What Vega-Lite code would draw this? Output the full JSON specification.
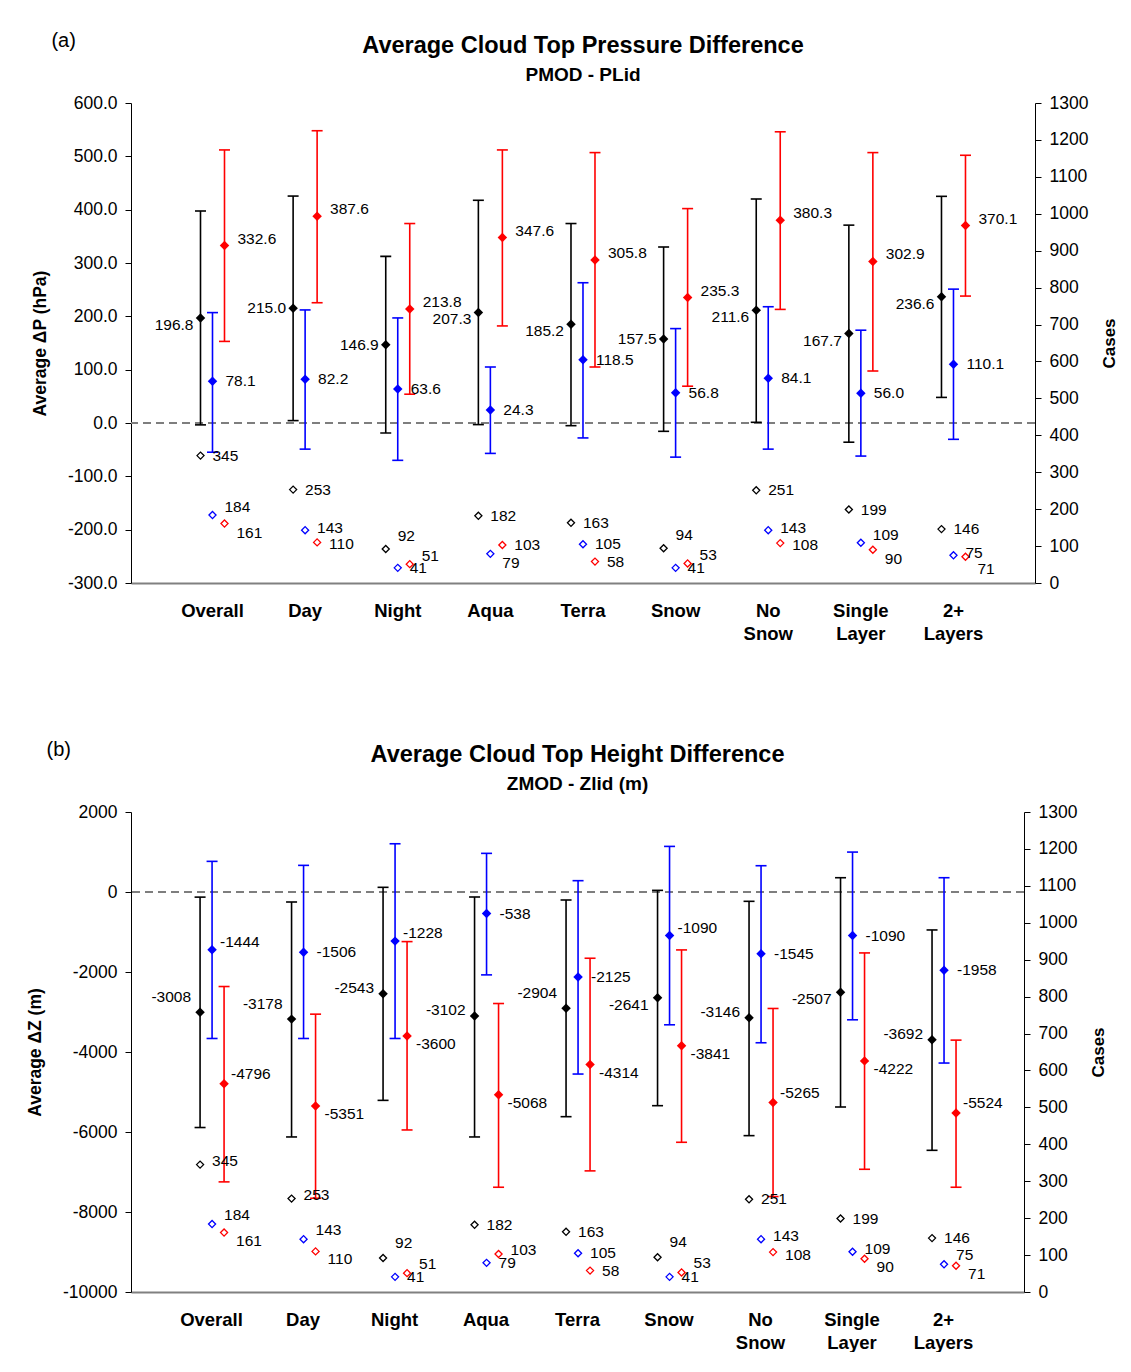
{
"$schema":"https://vega.github.io/schema/vega-lite/v6.json",
"padding":{"left":26,"top":30,"right":8,"bottom":0},
"spacing":96,
"config":{"font":"Liberation Sans","view":{"stroke":null},"axis":{"labelFont":"Liberation Sans","titleFont":"Liberation Sans","grid":false,"labelOverlap":false},"axisRight":{"labelOverlap":false},"title":{"font":"Liberation Sans","subtitleFont":"Liberation Sans"},"text":{"font":"Liberation Sans"},"locale":{"number":{"decimal":".","thousands":",","grouping":[3],"currency":["$",""],"minus":"-"}}},
"datasets":{
"pa":[
{"cat":"Overall","s":"k","mean":196.8,"lo":-3.5,"hi":397.5,"n":345},
{"cat":"Overall","s":"b","mean":78.1,"lo":-54.8,"hi":207,"n":184},
{"cat":"Overall","s":"r","mean":332.6,"lo":153,"hi":512,"n":161},
{"cat":"Day","s":"k","mean":215.0,"lo":4.5,"hi":425.5,"n":253},
{"cat":"Day","s":"b","mean":82.2,"lo":-49,"hi":212,"n":143},
{"cat":"Day","s":"r","mean":387.6,"lo":225.5,"hi":548,"n":110},
{"cat":"Night","s":"k","mean":146.9,"lo":-18.7,"hi":312.5,"n":92},
{"cat":"Night","s":"b","mean":63.6,"lo":-70,"hi":197,"n":41},
{"cat":"Night","s":"r","mean":213.8,"lo":54,"hi":374,"n":51},
{"cat":"Aqua","s":"k","mean":207.3,"lo":-3,"hi":417.6,"n":182},
{"cat":"Aqua","s":"b","mean":24.3,"lo":-57,"hi":105,"n":79},
{"cat":"Aqua","s":"r","mean":347.6,"lo":182,"hi":512,"n":103},
{"cat":"Terra","s":"k","mean":185.2,"lo":-5,"hi":374,"n":163},
{"cat":"Terra","s":"b","mean":118.5,"lo":-28,"hi":263,"n":105},
{"cat":"Terra","s":"r","mean":305.8,"lo":105,"hi":507,"n":58},
{"cat":"Snow","s":"k","mean":157.5,"lo":-15.6,"hi":330,"n":94},
{"cat":"Snow","s":"b","mean":56.8,"lo":-64,"hi":177,"n":41},
{"cat":"Snow","s":"r","mean":235.3,"lo":69,"hi":402,"n":53},
{"cat":"No Snow","s":"k","mean":211.6,"lo":1.3,"hi":420,"n":251},
{"cat":"No Snow","s":"b","mean":84.1,"lo":-49,"hi":218,"n":143},
{"cat":"No Snow","s":"r","mean":380.3,"lo":213,"hi":546,"n":108},
{"cat":"Single Layer","s":"k","mean":167.7,"lo":-36,"hi":371,"n":199},
{"cat":"Single Layer","s":"b","mean":56.0,"lo":-62,"hi":174,"n":109},
{"cat":"Single Layer","s":"r","mean":302.9,"lo":97.5,"hi":507,"n":90},
{"cat":"2+ Layers","s":"k","mean":236.6,"lo":48,"hi":425,"n":146},
{"cat":"2+ Layers","s":"b","mean":110.1,"lo":-30.6,"hi":251,"n":75},
{"cat":"2+ Layers","s":"r","mean":370.1,"lo":238,"hi":502,"n":71}
],
"pb":[
{"cat":"Overall","s":"k","mean":-3008,"lo":-5888,"hi":-128,"n":345},
{"cat":"Overall","s":"b","mean":-1444,"lo":-3662,"hi":766,"n":184},
{"cat":"Overall","s":"r","mean":-4796,"lo":-7247,"hi":-2363,"n":161},
{"cat":"Day","s":"k","mean":-3178,"lo":-6124,"hi":-250,"n":253},
{"cat":"Day","s":"b","mean":-1506,"lo":-3662,"hi":666,"n":143},
{"cat":"Day","s":"r","mean":-5351,"lo":-7656,"hi":-3054,"n":110},
{"cat":"Night","s":"k","mean":-2543,"lo":-5209,"hi":117,"n":92},
{"cat":"Night","s":"b","mean":-1228,"lo":-3662,"hi":1206,"n":41},
{"cat":"Night","s":"r","mean":-3600,"lo":-5949,"hi":-1240,"n":51},
{"cat":"Aqua","s":"k","mean":-3102,"lo":-6124,"hi":-125,"n":182},
{"cat":"Aqua","s":"b","mean":-538,"lo":-2072,"hi":966,"n":79},
{"cat":"Aqua","s":"r","mean":-5068,"lo":-7381,"hi":-2788,"n":103},
{"cat":"Terra","s":"k","mean":-2904,"lo":-5617,"hi":-200,"n":163},
{"cat":"Terra","s":"b","mean":-2125,"lo":-4551,"hi":283,"n":105},
{"cat":"Terra","s":"r","mean":-4314,"lo":-6972,"hi":-1656,"n":58},
{"cat":"Snow","s":"k","mean":-2641,"lo":-5342,"hi":41,"n":94},
{"cat":"Snow","s":"b","mean":-1090,"lo":-3320,"hi":1140,"n":41},
{"cat":"Snow","s":"r","mean":-3841,"lo":-6257,"hi":-1448,"n":53},
{"cat":"No Snow","s":"k","mean":-3146,"lo":-6091,"hi":-233,"n":251},
{"cat":"No Snow","s":"b","mean":-1545,"lo":-3769,"hi":657,"n":143},
{"cat":"No Snow","s":"r","mean":-5265,"lo":-7614,"hi":-2912,"n":108},
{"cat":"Single Layer","s":"k","mean":-2507,"lo":-5375,"hi":357,"n":199},
{"cat":"Single Layer","s":"b","mean":-1090,"lo":-3195,"hi":998,"n":109},
{"cat":"Single Layer","s":"r","mean":-4222,"lo":-6932,"hi":-1523,"n":90},
{"cat":"2+ Layers","s":"k","mean":-3692,"lo":-6458,"hi":-949,"n":146},
{"cat":"2+ Layers","s":"b","mean":-1958,"lo":-4276,"hi":357,"n":75},
{"cat":"2+ Layers","s":"r","mean":-5524,"lo":-7381,"hi":-3703,"n":71}
]
},
"vconcat":[
{"title":{"text":"(a)","anchor":"start","fontSize":20,"fontWeight":"normal","color":"#000","offset":-17,"dx":20},
 "vconcat":[
 {"width":904,"height":480,"data":{"name":"pa"},
  "title":{"text":"Average Cloud Top Pressure Difference","subtitle":"PMOD - PLid","fontSize":23.5,"fontWeight":"bold","color":"#000","subtitleFontSize":19,"subtitleFontWeight":"bold","subtitleColor":"#000","subtitlePadding":9,"offset":9,"anchor":"middle"},
  "layer":[
   {"layer":[
     {"mark":{"type":"rule","strokeDash":[8,5],"color":"#7f7f7f","strokeWidth":1.3},
      "encoding":{"y":{"datum":0,"type":"quantitative","scale":{"domain":[-300,600],"nice":false,"zero":false},"axis":{"title":"Average  ΔP (hPa)","values":[-300,-200,-100,0,100,200,300,400,500,600],"format":".1f","labelFontSize":17.5,"labelColor":"#000","titleFontSize":17.5,"titleFontWeight":"bold","titleColor":"#000","tickSize":6,"tickColor":"#000","domainColor":"#000","labelPadding":8,"titlePadding":18,"labelOverlap":false,"grid":false}}}},
     {"mark":{"type":"rule","strokeWidth":1.6},
      "encoding":{"x":{"field":"cat","type":"nominal","sort":["Overall","Day","Night","Aqua","Terra","Snow","No Snow","Single Layer","2+ Layers"],"scale":{"type":"band","paddingInner":0,"paddingOuter":0.38},"axis":{"title":null,"labelExpr":"split(datum.label, ' ')","labelFontWeight":"bold","labelFontSize":18.5,"labelColor":"#000","labelAngle":0,"labelBaseline":"middle","labelLineHeight":23,"labelPadding":27,"labelOverlap":false,"ticks":false,"domainColor":"#808080","domainWidth":2}},
       "xOffset":{"field":"s","type":"nominal","sort":["k","b","r"],"scale":{"type":"point","padding":0,"range":[34.3,58.3]}},
       "y":{"field":"lo","type":"quantitative","scale":{"domain":[-300,600],"nice":false,"zero":false}},"y2":{"field":"hi"},
       "color":{"field":"s","type":"nominal","scale":{"domain":["k","b","r"],"range":["#000000","#0000ff","#ff0000"]},"legend":null}}},
     {"mark":{"type":"tick","thickness":1.6,"size":11,"opacity":1},
      "encoding":{"x":{"field":"cat","type":"nominal","sort":["Overall","Day","Night","Aqua","Terra","Snow","No Snow","Single Layer","2+ Layers"]},
       "xOffset":{"field":"s","type":"nominal","sort":["k","b","r"]},
       "y":{"field":"lo","type":"quantitative"},
       "color":{"field":"s","type":"nominal","legend":null}}},
     {"mark":{"type":"tick","thickness":1.6,"size":11,"opacity":1},
      "encoding":{"x":{"field":"cat","type":"nominal","sort":["Overall","Day","Night","Aqua","Terra","Snow","No Snow","Single Layer","2+ Layers"]},
       "xOffset":{"field":"s","type":"nominal","sort":["k","b","r"]},
       "y":{"field":"hi","type":"quantitative"},
       "color":{"field":"s","type":"nominal","legend":null}}},
     {"mark":{"type":"point","shape":"diamond","filled":true,"size":90,"opacity":1},
      "encoding":{"x":{"field":"cat","type":"nominal","sort":["Overall","Day","Night","Aqua","Terra","Snow","No Snow","Single Layer","2+ Layers"]},
       "xOffset":{"field":"s","type":"nominal","sort":["k","b","r"]},
       "y":{"field":"mean","type":"quantitative"},
       "color":{"field":"s","type":"nominal","legend":null}}},
     {"transform":[{"filter":"datum.s=='k' && indexof(['Day','Night','Snow'],datum.cat)>=0"}],
      "mark":{"type":"text","align":"right","dx":-7,"dy":0,"fontSize":15.5,"color":"#000"},
      "encoding":{"x":{"field":"cat","type":"nominal","sort":["Overall","Day","Night","Aqua","Terra","Snow","No Snow","Single Layer","2+ Layers"]},
       "xOffset":{"field":"s","type":"nominal","sort":["k","b","r"]},
       "y":{"field":"mean","type":"quantitative"},"text":{"field":"mean","type":"quantitative","format":".1f"}}},
     {"transform":[{"filter":"datum.s=='k' && indexof(['Day','Night','Snow'],datum.cat)<0"}],
      "mark":{"type":"text","align":"right","dx":-7,"dy":7,"fontSize":15.5,"color":"#000"},
      "encoding":{"x":{"field":"cat","type":"nominal","sort":["Overall","Day","Night","Aqua","Terra","Snow","No Snow","Single Layer","2+ Layers"]},
       "xOffset":{"field":"s","type":"nominal","sort":["k","b","r"]},
       "y":{"field":"mean","type":"quantitative"},"text":{"field":"mean","type":"quantitative","format":".1f"}}},
     {"transform":[{"filter":"datum.s=='b'"}],
      "mark":{"type":"text","align":"left","dx":13,"dy":0,"fontSize":15.5,"color":"#000"},
      "encoding":{"x":{"field":"cat","type":"nominal","sort":["Overall","Day","Night","Aqua","Terra","Snow","No Snow","Single Layer","2+ Layers"]},
       "xOffset":{"field":"s","type":"nominal","sort":["k","b","r"]},
       "y":{"field":"mean","type":"quantitative"},"text":{"field":"mean","type":"quantitative","format":".1f"}}},
     {"transform":[{"filter":"datum.s=='r'"}],
      "mark":{"type":"text","align":"left","dx":13,"dy":-7,"fontSize":15.5,"color":"#000"},
      "encoding":{"x":{"field":"cat","type":"nominal","sort":["Overall","Day","Night","Aqua","Terra","Snow","No Snow","Single Layer","2+ Layers"]},
       "xOffset":{"field":"s","type":"nominal","sort":["k","b","r"]},
       "y":{"field":"mean","type":"quantitative"},"text":{"field":"mean","type":"quantitative","format":".1f"}}}
   ]},
   {"layer":[
     {"mark":{"type":"point","shape":"diamond","filled":false,"size":50,"strokeWidth":1.3,"opacity":1},
      "encoding":{"x":{"field":"cat","type":"nominal","sort":["Overall","Day","Night","Aqua","Terra","Snow","No Snow","Single Layer","2+ Layers"]},
       "xOffset":{"field":"s","type":"nominal","sort":["k","b","r"]},
       "y":{"field":"n","type":"quantitative","scale":{"domain":[0,1300],"nice":false,"zero":false},"axis":{"title":"Cases","orient":"right","values":[0,100,200,300,400,500,600,700,800,900,1000,1100,1200,1300],"format":"d","labelFontSize":17.5,"labelColor":"#000","titleFontSize":17,"titleFontWeight":"bold","titleColor":"#000","titleAngle":270,"tickSize":6,"tickColor":"#000","domainColor":"#000","labelPadding":8,"titlePadding":31,"labelOverlap":false,"labelBound":false,"grid":false}},
       "color":{"field":"s","type":"nominal","legend":null}}},
     {"transform":[{"filter":"indexof(['Night|k','Snow|k'], datum.cat+'|'+datum.s)>=0"}],
      "mark":{"type":"text","align":"left","dx":12,"dy":-13,"fontSize":15.5,"color":"#000"},
      "encoding":{"x":{"field":"cat","type":"nominal","sort":["Overall","Day","Night","Aqua","Terra","Snow","No Snow","Single Layer","2+ Layers"]},
       "xOffset":{"field":"s","type":"nominal","sort":["k","b","r"]},
       "y":{"field":"n","type":"quantitative","axis":{"title":"Cases","orient":"right","values":[0,100,200,300,400,500,600,700,800,900,1000,1100,1200,1300],"labelOverlap":false}},"text":{"field":"n","type":"quantitative","format":"d"}}},
     {"transform":[{"filter":"indexof(['Overall|b','Night|r','Snow|r','Single Layer|b'], datum.cat+'|'+datum.s)>=0"}],
      "mark":{"type":"text","align":"left","dx":12,"dy":-8,"fontSize":15.5,"color":"#000"},
      "encoding":{"x":{"field":"cat","type":"nominal","sort":["Overall","Day","Night","Aqua","Terra","Snow","No Snow","Single Layer","2+ Layers"]},
       "xOffset":{"field":"s","type":"nominal","sort":["k","b","r"]},
       "y":{"field":"n","type":"quantitative","axis":{"title":"Cases","orient":"right","values":[0,100,200,300,400,500,600,700,800,900,1000,1100,1200,1300],"labelOverlap":false}},"text":{"field":"n","type":"quantitative","format":"d"}}},
     {"transform":[{"filter":"indexof(['Overall|r','Aqua|b','Single Layer|r'], datum.cat+'|'+datum.s)>=0"}],
      "mark":{"type":"text","align":"left","dx":12,"dy":9,"fontSize":15.5,"color":"#000"},
      "encoding":{"x":{"field":"cat","type":"nominal","sort":["Overall","Day","Night","Aqua","Terra","Snow","No Snow","Single Layer","2+ Layers"]},
       "xOffset":{"field":"s","type":"nominal","sort":["k","b","r"]},
       "y":{"field":"n","type":"quantitative","axis":{"title":"Cases","orient":"right","values":[0,100,200,300,400,500,600,700,800,900,1000,1100,1200,1300],"labelOverlap":false}},"text":{"field":"n","type":"quantitative","format":"d"}}},
     {"transform":[{"filter":"indexof(['2+ Layers|r'], datum.cat+'|'+datum.s)>=0"}],
      "mark":{"type":"text","align":"left","dx":12,"dy":12,"fontSize":15.5,"color":"#000"},
      "encoding":{"x":{"field":"cat","type":"nominal","sort":["Overall","Day","Night","Aqua","Terra","Snow","No Snow","Single Layer","2+ Layers"]},
       "xOffset":{"field":"s","type":"nominal","sort":["k","b","r"]},
       "y":{"field":"n","type":"quantitative","axis":{"title":"Cases","orient":"right","values":[0,100,200,300,400,500,600,700,800,900,1000,1100,1200,1300],"labelOverlap":false}},"text":{"field":"n","type":"quantitative","format":"d"}}},
     {"transform":[{"filter":"indexof(['Day|b','No Snow|b','2+ Layers|b'], datum.cat+'|'+datum.s)>=0"}],
      "mark":{"type":"text","align":"left","dx":12,"dy":-2,"fontSize":15.5,"color":"#000"},
      "encoding":{"x":{"field":"cat","type":"nominal","sort":["Overall","Day","Night","Aqua","Terra","Snow","No Snow","Single Layer","2+ Layers"]},
       "xOffset":{"field":"s","type":"nominal","sort":["k","b","r"]},
       "y":{"field":"n","type":"quantitative","axis":{"title":"Cases","orient":"right","values":[0,100,200,300,400,500,600,700,800,900,1000,1100,1200,1300],"labelOverlap":false}},"text":{"field":"n","type":"quantitative","format":"d"}}},
     {"transform":[{"filter":"indexof(['Day|r','No Snow|r'], datum.cat+'|'+datum.s)>=0"}],
      "mark":{"type":"text","align":"left","dx":12,"dy":2,"fontSize":15.5,"color":"#000"},
      "encoding":{"x":{"field":"cat","type":"nominal","sort":["Overall","Day","Night","Aqua","Terra","Snow","No Snow","Single Layer","2+ Layers"]},
       "xOffset":{"field":"s","type":"nominal","sort":["k","b","r"]},
       "y":{"field":"n","type":"quantitative","axis":{"title":"Cases","orient":"right","values":[0,100,200,300,400,500,600,700,800,900,1000,1100,1200,1300],"labelOverlap":false}},"text":{"field":"n","type":"quantitative","format":"d"}}},
     {"transform":[{"filter":"indexof(['Night|k','Snow|k','Overall|b','Night|r','Snow|r','Single Layer|b','Overall|r','Aqua|b','Single Layer|r','2+ Layers|r','Day|b','No Snow|b','2+ Layers|b','Day|r','No Snow|r'], datum.cat+'|'+datum.s)<0"}],
      "mark":{"type":"text","align":"left","dx":12,"dy":0,"fontSize":15.5,"color":"#000"},
      "encoding":{"x":{"field":"cat","type":"nominal","sort":["Overall","Day","Night","Aqua","Terra","Snow","No Snow","Single Layer","2+ Layers"]},
       "xOffset":{"field":"s","type":"nominal","sort":["k","b","r"]},
       "y":{"field":"n","type":"quantitative","axis":{"title":"Cases","orient":"right","values":[0,100,200,300,400,500,600,700,800,900,1000,1100,1200,1300],"labelOverlap":false}},"text":{"field":"n","type":"quantitative","format":"d"}}}
   ]}
  ],
  "resolve":{"scale":{"y":"independent"}}
 }
 ]
},
{"title":{"text":"(b)","anchor":"start","fontSize":20,"fontWeight":"normal","color":"#000","offset":-17,"dx":20},
 "vconcat":[
 {"width":893,"height":480,"data":{"name":"pb"},
  "title":{"text":"Average Cloud Top Height Difference","subtitle":"ZMOD - Zlid (m)","fontSize":23.5,"fontWeight":"bold","color":"#000","subtitleFontSize":19,"subtitleFontWeight":"bold","subtitleColor":"#000","subtitlePadding":9,"offset":9,"anchor":"middle"},
  "layer":[
   {"layer":[
     {"mark":{"type":"rule","strokeDash":[8,5],"color":"#7f7f7f","strokeWidth":1.3},
      "encoding":{"y":{"datum":0,"type":"quantitative","scale":{"domain":[-10000,2000],"nice":false,"zero":false},"axis":{"title":"Average  ΔZ (m)","values":[-10000,-8000,-6000,-4000,-2000,0,2000],"format":"d","labelFontSize":17.5,"labelColor":"#000","titleFontSize":17.5,"titleFontWeight":"bold","titleColor":"#000","tickSize":6,"tickColor":"#000","domainColor":"#000","labelPadding":8,"titlePadding":18,"labelOverlap":false,"grid":false}}}},
     {"mark":{"type":"rule","strokeWidth":1.6},
      "encoding":{"x":{"field":"cat","type":"nominal","sort":["Overall","Day","Night","Aqua","Terra","Snow","No Snow","Single Layer","2+ Layers"],"scale":{"type":"band","paddingInner":0,"paddingOuter":0.38},"axis":{"title":null,"labelExpr":"split(datum.label, ' ')","labelFontWeight":"bold","labelFontSize":18.5,"labelColor":"#000","labelAngle":0,"labelBaseline":"middle","labelLineHeight":23,"labelPadding":27,"labelOverlap":false,"ticks":false,"domainColor":"#808080","domainWidth":2}},
       "xOffset":{"field":"s","type":"nominal","sort":["k","b","r"],"scale":{"type":"point","padding":0,"range":[34.25,57.25]}},
       "y":{"field":"lo","type":"quantitative","scale":{"domain":[-10000,2000],"nice":false,"zero":false}},"y2":{"field":"hi"},
       "color":{"field":"s","type":"nominal","scale":{"domain":["k","b","r"],"range":["#000000","#0000ff","#ff0000"]},"legend":null}}},
     {"mark":{"type":"tick","thickness":1.6,"size":11,"opacity":1},
      "encoding":{"x":{"field":"cat","type":"nominal","sort":["Overall","Day","Night","Aqua","Terra","Snow","No Snow","Single Layer","2+ Layers"]},
       "xOffset":{"field":"s","type":"nominal","sort":["k","b","r"]},
       "y":{"field":"lo","type":"quantitative"},
       "color":{"field":"s","type":"nominal","legend":null}}},
     {"mark":{"type":"tick","thickness":1.6,"size":11,"opacity":1},
      "encoding":{"x":{"field":"cat","type":"nominal","sort":["Overall","Day","Night","Aqua","Terra","Snow","No Snow","Single Layer","2+ Layers"]},
       "xOffset":{"field":"s","type":"nominal","sort":["k","b","r"]},
       "y":{"field":"hi","type":"quantitative"},
       "color":{"field":"s","type":"nominal","legend":null}}},
     {"mark":{"type":"point","shape":"diamond","filled":true,"size":90,"opacity":1},
      "encoding":{"x":{"field":"cat","type":"nominal","sort":["Overall","Day","Night","Aqua","Terra","Snow","No Snow","Single Layer","2+ Layers"]},
       "xOffset":{"field":"s","type":"nominal","sort":["k","b","r"]},
       "y":{"field":"mean","type":"quantitative"},
       "color":{"field":"s","type":"nominal","legend":null}}},
     {"transform":[{"filter":"datum.s=='k' && indexof(['Overall','Day','Terra'],datum.cat)>=0"}],
      "mark":{"type":"text","align":"right","dx":-9,"dy":-15,"fontSize":15.5,"color":"#000"},
      "encoding":{"x":{"field":"cat","type":"nominal","sort":["Overall","Day","Night","Aqua","Terra","Snow","No Snow","Single Layer","2+ Layers"]},
       "xOffset":{"field":"s","type":"nominal","sort":["k","b","r"]},
       "y":{"field":"mean","type":"quantitative"},"text":{"field":"mean","type":"quantitative","format":"d"}}},
     {"transform":[{"filter":"datum.s=='k' && indexof(['Snow','Single Layer'],datum.cat)>=0"}],
      "mark":{"type":"text","align":"right","dx":-9,"dy":7,"fontSize":15.5,"color":"#000"},
      "encoding":{"x":{"field":"cat","type":"nominal","sort":["Overall","Day","Night","Aqua","Terra","Snow","No Snow","Single Layer","2+ Layers"]},
       "xOffset":{"field":"s","type":"nominal","sort":["k","b","r"]},
       "y":{"field":"mean","type":"quantitative"},"text":{"field":"mean","type":"quantitative","format":"d"}}},
     {"transform":[{"filter":"datum.s=='k' && indexof(['Overall','Day','Terra','Snow','Single Layer'],datum.cat)<0"}],
      "mark":{"type":"text","align":"right","dx":-9,"dy":-6,"fontSize":15.5,"color":"#000"},
      "encoding":{"x":{"field":"cat","type":"nominal","sort":["Overall","Day","Night","Aqua","Terra","Snow","No Snow","Single Layer","2+ Layers"]},
       "xOffset":{"field":"s","type":"nominal","sort":["k","b","r"]},
       "y":{"field":"mean","type":"quantitative"},"text":{"field":"mean","type":"quantitative","format":"d"}}},
     {"transform":[{"filter":"datum.s=='b' && indexof(['Overall','Night','Snow'],datum.cat)>=0"}],
      "mark":{"type":"text","align":"left","dx":8,"dy":-8,"fontSize":15.5,"color":"#000"},
      "encoding":{"x":{"field":"cat","type":"nominal","sort":["Overall","Day","Night","Aqua","Terra","Snow","No Snow","Single Layer","2+ Layers"]},
       "xOffset":{"field":"s","type":"nominal","sort":["k","b","r"]},
       "y":{"field":"mean","type":"quantitative"},"text":{"field":"mean","type":"quantitative","format":"d"}}},
     {"transform":[{"filter":"datum.s=='b' && indexof(['Overall','Night','Snow'],datum.cat)<0"}],
      "mark":{"type":"text","align":"left","dx":13,"dy":0,"fontSize":15.5,"color":"#000"},
      "encoding":{"x":{"field":"cat","type":"nominal","sort":["Overall","Day","Night","Aqua","Terra","Snow","No Snow","Single Layer","2+ Layers"]},
       "xOffset":{"field":"s","type":"nominal","sort":["k","b","r"]},
       "y":{"field":"mean","type":"quantitative"},"text":{"field":"mean","type":"quantitative","format":"d"}}},
     {"transform":[{"filter":"datum.s=='r' && indexof(['Overall','No Snow','2+ Layers'],datum.cat)>=0"}],
      "mark":{"type":"text","align":"left","dx":7,"dy":-10,"fontSize":15.5,"color":"#000"},
      "encoding":{"x":{"field":"cat","type":"nominal","sort":["Overall","Day","Night","Aqua","Terra","Snow","No Snow","Single Layer","2+ Layers"]},
       "xOffset":{"field":"s","type":"nominal","sort":["k","b","r"]},
       "y":{"field":"mean","type":"quantitative"},"text":{"field":"mean","type":"quantitative","format":"d"}}},
     {"transform":[{"filter":"datum.s=='r' && indexof(['Overall','No Snow','2+ Layers'],datum.cat)<0"}],
      "mark":{"type":"text","align":"left","dx":9,"dy":8,"fontSize":15.5,"color":"#000"},
      "encoding":{"x":{"field":"cat","type":"nominal","sort":["Overall","Day","Night","Aqua","Terra","Snow","No Snow","Single Layer","2+ Layers"]},
       "xOffset":{"field":"s","type":"nominal","sort":["k","b","r"]},
       "y":{"field":"mean","type":"quantitative"},"text":{"field":"mean","type":"quantitative","format":"d"}}}
   ]},
   {"layer":[
     {"mark":{"type":"point","shape":"diamond","filled":false,"size":50,"strokeWidth":1.3,"opacity":1},
      "encoding":{"x":{"field":"cat","type":"nominal","sort":["Overall","Day","Night","Aqua","Terra","Snow","No Snow","Single Layer","2+ Layers"]},
       "xOffset":{"field":"s","type":"nominal","sort":["k","b","r"]},
       "y":{"field":"n","type":"quantitative","scale":{"domain":[0,1300],"nice":false,"zero":false},"axis":{"title":"Cases","orient":"right","values":[0,100,200,300,400,500,600,700,800,900,1000,1100,1200,1300],"format":"d","labelFontSize":17.5,"labelColor":"#000","titleFontSize":17,"titleFontWeight":"bold","titleColor":"#000","titleAngle":270,"tickSize":6,"tickColor":"#000","domainColor":"#000","labelPadding":8,"titlePadding":31,"labelOverlap":false,"labelBound":false,"grid":false}},
       "color":{"field":"s","type":"nominal","legend":null}}},
     {"transform":[{"filter":"indexof(['Night|k','Snow|k'], datum.cat+'|'+datum.s)>=0"}],
      "mark":{"type":"text","align":"left","dx":12,"dy":-15,"fontSize":15.5,"color":"#000"},
      "encoding":{"x":{"field":"cat","type":"nominal","sort":["Overall","Day","Night","Aqua","Terra","Snow","No Snow","Single Layer","2+ Layers"]},
       "xOffset":{"field":"s","type":"nominal","sort":["k","b","r"]},
       "y":{"field":"n","type":"quantitative","axis":{"title":"Cases","orient":"right","values":[0,100,200,300,400,500,600,700,800,900,1000,1100,1200,1300],"labelOverlap":false}},"text":{"field":"n","type":"quantitative","format":"d"}}},
     {"transform":[{"filter":"indexof(['Overall|b','Day|b','Night|r','Snow|r','2+ Layers|b'], datum.cat+'|'+datum.s)>=0"}],
      "mark":{"type":"text","align":"left","dx":12,"dy":-9,"fontSize":15.5,"color":"#000"},
      "encoding":{"x":{"field":"cat","type":"nominal","sort":["Overall","Day","Night","Aqua","Terra","Snow","No Snow","Single Layer","2+ Layers"]},
       "xOffset":{"field":"s","type":"nominal","sort":["k","b","r"]},
       "y":{"field":"n","type":"quantitative","axis":{"title":"Cases","orient":"right","values":[0,100,200,300,400,500,600,700,800,900,1000,1100,1200,1300],"labelOverlap":false}},"text":{"field":"n","type":"quantitative","format":"d"}}},
     {"transform":[{"filter":"indexof(['Overall|r','Day|r','Single Layer|r','2+ Layers|r'], datum.cat+'|'+datum.s)>=0"}],
      "mark":{"type":"text","align":"left","dx":12,"dy":8,"fontSize":15.5,"color":"#000"},
      "encoding":{"x":{"field":"cat","type":"nominal","sort":["Overall","Day","Night","Aqua","Terra","Snow","No Snow","Single Layer","2+ Layers"]},
       "xOffset":{"field":"s","type":"nominal","sort":["k","b","r"]},
       "y":{"field":"n","type":"quantitative","axis":{"title":"Cases","orient":"right","values":[0,100,200,300,400,500,600,700,800,900,1000,1100,1200,1300],"labelOverlap":false}},"text":{"field":"n","type":"quantitative","format":"d"}}},
     {"transform":[{"filter":"indexof(['Overall|k','Day|k','Aqua|r'], datum.cat+'|'+datum.s)>=0"}],
      "mark":{"type":"text","align":"left","dx":12,"dy":-4,"fontSize":15.5,"color":"#000"},
      "encoding":{"x":{"field":"cat","type":"nominal","sort":["Overall","Day","Night","Aqua","Terra","Snow","No Snow","Single Layer","2+ Layers"]},
       "xOffset":{"field":"s","type":"nominal","sort":["k","b","r"]},
       "y":{"field":"n","type":"quantitative","axis":{"title":"Cases","orient":"right","values":[0,100,200,300,400,500,600,700,800,900,1000,1100,1200,1300],"labelOverlap":false}},"text":{"field":"n","type":"quantitative","format":"d"}}},
     {"transform":[{"filter":"indexof(['No Snow|b','Single Layer|b'], datum.cat+'|'+datum.s)>=0"}],
      "mark":{"type":"text","align":"left","dx":12,"dy":-3,"fontSize":15.5,"color":"#000"},
      "encoding":{"x":{"field":"cat","type":"nominal","sort":["Overall","Day","Night","Aqua","Terra","Snow","No Snow","Single Layer","2+ Layers"]},
       "xOffset":{"field":"s","type":"nominal","sort":["k","b","r"]},
       "y":{"field":"n","type":"quantitative","axis":{"title":"Cases","orient":"right","values":[0,100,200,300,400,500,600,700,800,900,1000,1100,1200,1300],"labelOverlap":false}},"text":{"field":"n","type":"quantitative","format":"d"}}},
     {"transform":[{"filter":"indexof(['No Snow|r'], datum.cat+'|'+datum.s)>=0"}],
      "mark":{"type":"text","align":"left","dx":12,"dy":3,"fontSize":15.5,"color":"#000"},
      "encoding":{"x":{"field":"cat","type":"nominal","sort":["Overall","Day","Night","Aqua","Terra","Snow","No Snow","Single Layer","2+ Layers"]},
       "xOffset":{"field":"s","type":"nominal","sort":["k","b","r"]},
       "y":{"field":"n","type":"quantitative","axis":{"title":"Cases","orient":"right","values":[0,100,200,300,400,500,600,700,800,900,1000,1100,1200,1300],"labelOverlap":false}},"text":{"field":"n","type":"quantitative","format":"d"}}},
     {"transform":[{"filter":"indexof(['Night|k','Snow|k','Overall|b','Day|b','Night|r','Snow|r','2+ Layers|b','Overall|r','Day|r','Single Layer|r','2+ Layers|r','Overall|k','Day|k','Aqua|r','No Snow|b','Single Layer|b','No Snow|r'], datum.cat+'|'+datum.s)<0"}],
      "mark":{"type":"text","align":"left","dx":12,"dy":0,"fontSize":15.5,"color":"#000"},
      "encoding":{"x":{"field":"cat","type":"nominal","sort":["Overall","Day","Night","Aqua","Terra","Snow","No Snow","Single Layer","2+ Layers"]},
       "xOffset":{"field":"s","type":"nominal","sort":["k","b","r"]},
       "y":{"field":"n","type":"quantitative","axis":{"title":"Cases","orient":"right","values":[0,100,200,300,400,500,600,700,800,900,1000,1100,1200,1300],"labelOverlap":false}},"text":{"field":"n","type":"quantitative","format":"d"}}}
   ]}
  ],
  "resolve":{"scale":{"y":"independent"}}
 }
 ]
}
]
}
